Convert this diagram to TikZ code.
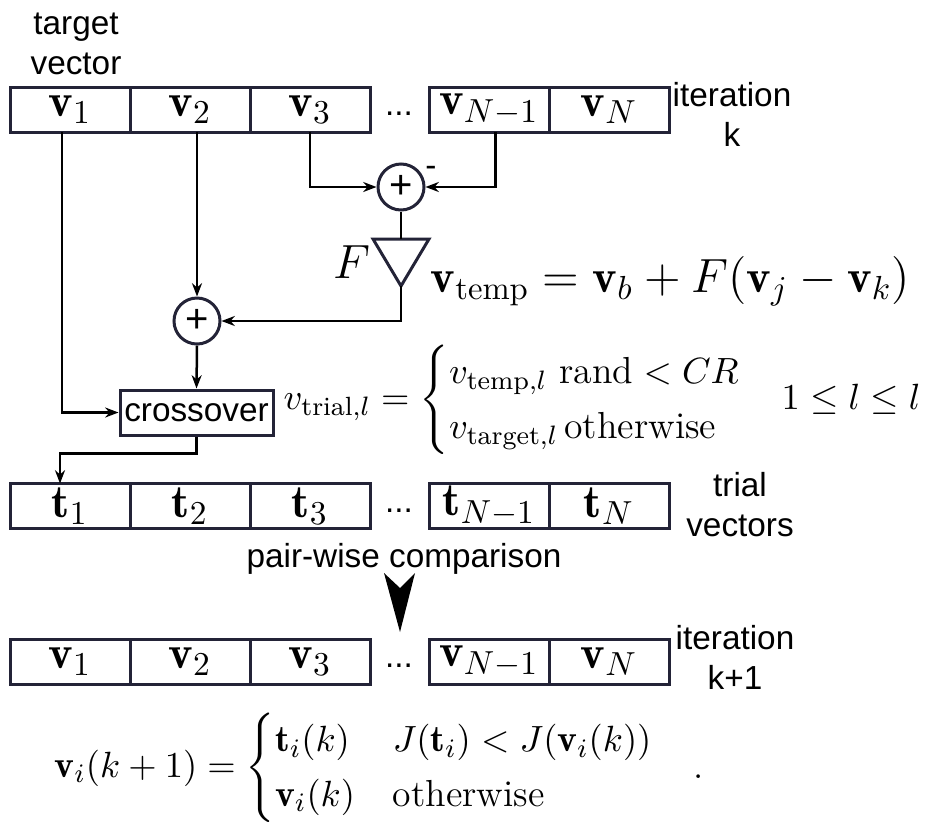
\documentclass[tikz,border=0pt]{standalone}
\usepackage{amsmath}
\usepackage{fontspec}
\newfontfamily\lab{Liberation Sans}
\usepackage{tikz}
\usetikzlibrary{arrows.meta,positioning,calc}

\definecolor{boxcol}{RGB}{35,35,55}

\begin{document}
\begin{tikzpicture}[
    x=0.3pt, y=-0.3pt,
    font=\fontsize{14}{17}\selectfont,
    cell/.style={rectangle, draw=boxcol, line width=0.9pt, minimum width=36pt, minimum height=13.5pt, inner sep=0pt, outer sep=0pt},
    sum/.style={circle, draw=boxcol, line width=0.9pt, minimum size=13.8pt, inner sep=0pt, font=\lab\fontsize{12}{12}\selectfont},
    txt/.style={font=\lab\fontsize{10}{12}\selectfont, align=center},
    eq/.style={font=\fontsize{11.3}{13.6}\selectfont, inner sep=0pt},
    bigeq/.style={font=\fontsize{14}{17}\selectfont, inner sep=0pt},
    arrow/.style={-{Stealth[length=4pt,width=3pt]}, line width=0.75pt},
    wire/.style={line width=0.75pt}
]
    \useasboundingbox (0,0) rectangle (926,823);

    % population at iteration k
    \node[cell] (v1) at (70,109.5) {$\mathbf{v}_1$};
    \node[cell, right=0pt of v1] (v2) {$\mathbf{v}_2$};
    \node[cell, right=0pt of v2] (v3) {$\mathbf{v}_3$};
    \node[cell, right=17.7pt of v3] (vN1) {$\mathbf{v}_{N-1}$};
    \node[cell, right=0pt of vN1] (vN) {$\mathbf{v}_N$};
    \node[txt, anchor=base] (dots1) at (399,115) {...};
    \node[txt] (target) at (76,44) {target\\vector};
    \node[txt] (iterk) at (732,114) {iteration\\k};

    % mutation
    \node[sum] (s1) at (401,187) {+};
    \node[txt] (minus) at (431,171) {-};
    \coordinate (ampin) at (401,239);
    \coordinate (ampout) at (401,286);
    \draw[boxcol, line width=0.9pt] (373,239) -- (429,239) -- (ampout) -- cycle;
    \node[bigeq] (gain) at (352,262) {$F$};
    \node[bigeq, anchor=base west] (vtemp) at (430,292) {$\mathbf{v}_{\mathrm{temp}} = \mathbf{v}_b + F(\mathbf{v}_j - \mathbf{v}_k)$};
    \node[sum] (s2) at (197,321) {+};

    % crossover
    \node[rectangle, draw=boxcol, line width=0.9pt, minimum width=45.9pt, minimum height=13.5pt, inner sep=0pt, font=\lab\fontsize{10}{12}\selectfont] (cross) at (196.5,412.5) {crossover};
    \node[eq, anchor=west] (vtrial) at (283,400) {$v_{\mathrm{trial},l} = \begin{cases} v_{\mathrm{temp},l}\ \mathrm{rand} < CR\\ v_{\mathrm{target},l}\,\mathrm{otherwise}\end{cases}$};
    \node[eq, anchor=west] (range) at (781,399) {$1 \leq l \leq l$};

    % trial vectors
    \node[cell] (t1) at (70,506) {$\mathbf{t}_1$};
    \node[cell, right=0pt of t1] (t2) {$\mathbf{t}_2$};
    \node[cell, right=0pt of t2] (t3) {$\mathbf{t}_3$};
    \node[cell, right=17.7pt of t3] (tN1) {$\mathbf{t}_{N-1}$};
    \node[cell, right=0pt of tN1] (tN) {$\mathbf{t}_N$};
    \node[txt, anchor=base] (dots2) at (399,512) {...};
    \node[txt] (trial) at (740,505) {trial\\vectors};
    \node[txt, anchor=base] (pairwise) at (404,567) {pair-wise comparison};

    % selection
    \fill (384,573) -- (400,588) -- (415,573) -- (400,632) -- cycle;

    % population at iteration k+1
    \node[cell] (w1) at (70,661.5) {$\mathbf{v}_1$};
    \node[cell, right=0pt of w1] (w2) {$\mathbf{v}_2$};
    \node[cell, right=0pt of w2] (w3) {$\mathbf{v}_3$};
    \node[cell, right=17.7pt of w3] (wN1) {$\mathbf{v}_{N-1}$};
    \node[cell, right=0pt of wN1] (wN) {$\mathbf{v}_N$};
    \node[txt, anchor=base] (dots3) at (399,667) {...};
    \node[txt] (iterk1) at (735,657) {iteration\\k+1};
    \node[eq, anchor=west] (select) at (54,768) {$\mathbf{v}_i(k+1) = \begin{cases}\mathbf{t}_i(k) & J(\mathbf{t}_i) < J(\mathbf{v}_i(k))\\ \mathbf{v}_i(k) & \mathrm{otherwise}\end{cases}$};
    \node[eq, anchor=base] (stop) at (699,778) {.};

    % connections
    \draw[arrow] (v3.south) |- (s1.west);
    \draw[arrow] ([xshift=2pt]vN1.south) |- (s1.east);
    \draw[wire] (s1.south) -- (ampin);
    \draw[arrow] (ampout) |- (s2.east);
    \draw[arrow] (s2 |- v2.south) -- (s2.north);
    \draw[arrow] (s2.south) -- (cross.north);
    \draw[arrow] ([xshift=-2.4pt]v1.south) |- (cross.west);
    \draw[arrow] (cross.south) -- ++(0,17) -| ([xshift=-3pt]t1.north);
\end{tikzpicture}
\end{document}
